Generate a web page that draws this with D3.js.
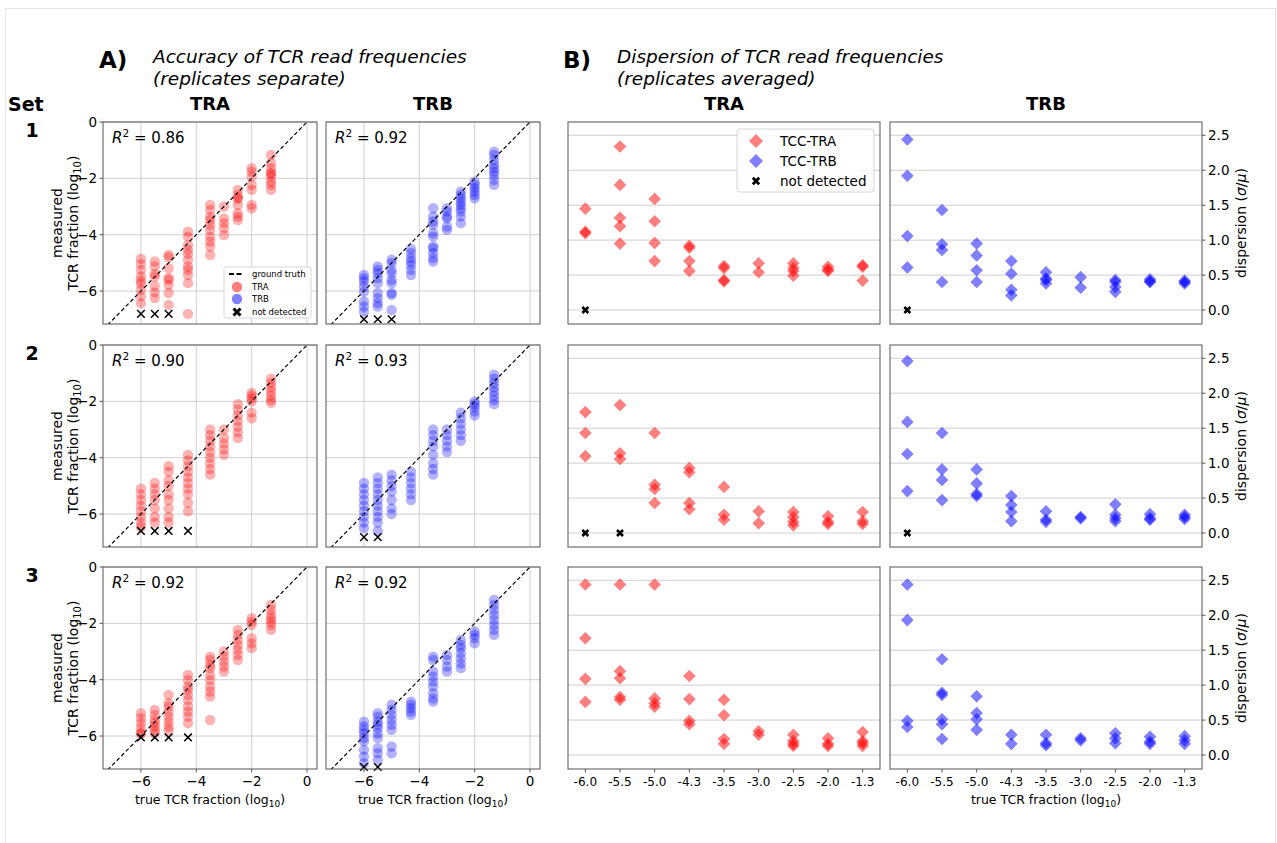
<!DOCTYPE html>
<html>
<head>
<meta charset="utf-8">
<script src="https://cdn.jsdelivr.net/npm/d3@7"></script>
<style>
  body { margin: 0; background: #fff; }
  text { font-family: "DejaVu Sans", sans-serif; fill: #000; }
</style>
</head>
<body>
<div id="chart"></div>
<script>
// true log10 fractions (shared by both parts)
const xTrue = [-6, -5.5, -5, -4.3, -3.5, -3, -2.5, -2, -1.3];
const xCats = ["-6.0", "-5.5", "-5.0", "-4.3", "-3.5", "-3.0", "-2.5", "-2.0", "-1.3"];
const setNames = ["1", "2", "3"];
const r2TRA = [0.86, 0.90, 0.92];
const r2TRB = [0.92, 0.93, 0.92];
const accXTicks = [-6, -4, -2, 0];
const accYTicks = [0, -2, -4, -6];
const dispYTicks = [0, 0.5, 1, 1.5, 2, 2.5];

// A) measured fraction per true fraction column
const accTRA1 = [
  [-4.86, -5.04, -5.25, -5.48, -5.63, -5.74, -5.96, -6.19, -6.43],
  [-4.95, -5.13, -5.39, -5.49, -5.82, -6.05, -6.25],
  [-4.72, -4.8, -5.19, -5.54, -5.6, -5.78, -6.07, -6.49],
  [-3.89, -4.07, -4.36, -4.54, -4.68, -4.89, -5.13, -5.25, -5.43, -5.72, -6.81],
  [-2.94, -3.12, -3.36, -3.48, -3.65, -3.83, -4.07, -4.24, -4.42, -4.72],
  [-3.0, -3.42, -3.59, -3.77, -4.01],
  [-2.41, -2.59, -2.71, -2.71, -2.94, -3.24, -3.36, -3.48],
  [-1.64, -1.76, -1.94, -2.23, -2.41, -2.94, -3.06],
  [-1.17, -1.46, -1.64, -1.82, -1.82, -1.94, -2.12, -2.23, -2.41]
];
const accTRB1 = [
  [-5.43, -5.54, -5.66, -5.84, -6.02, -6.37, -6.55, -6.73],
  [-5.13, -5.25, -5.37, -5.54, -5.72, -6.07, -6.25, -6.43, -6.55],
  [-4.89, -5.01, -5.25, -5.37, -5.6, -5.72, -6.07, -6.13, -6.67],
  [-4.51, -4.66, -4.83, -4.95, -5.07, -5.25, -5.43],
  [-3.06, -3.36, -3.53, -3.65, -3.95, -4.07, -4.42, -4.48, -4.66, -4.83, -4.95],
  [-3.06, -3.18, -3.36, -3.42, -3.71, -3.83],
  [-2.47, -2.59, -2.71, -2.83, -2.94, -3.06, -3.18, -3.36, -3.59],
  [-2.12, -2.23, -2.35, -2.47, -2.59, -2.71],
  [-1.05, -1.17, -1.35, -1.52, -1.64, -1.76, -1.88, -2.06, -2.23]
];
const accTRA2 = [
  [-5.1, -5.3, -5.5, -5.7, -5.9, -6.1, -6.3, -6.45],
  [-4.9, -5.1, -5.3, -5.5, -5.8, -6.1, -6.3],
  [-4.3, -4.5, -4.8, -5.0, -5.3, -5.5, -5.8, -6.1, -6.3],
  [-3.9, -4.1, -4.3, -4.5, -4.7, -4.9, -5.1, -5.3, -5.6, -5.9],
  [-3.0, -3.2, -3.4, -3.6, -3.8, -4.0, -4.2, -4.4, -4.6],
  [-3.0, -3.3, -3.5, -3.7, -3.9],
  [-2.1, -2.3, -2.5, -2.7, -2.9, -3.1, -3.3],
  [-1.7, -1.8, -1.9, -2.0, -2.4, -2.6],
  [-1.2, -1.35, -1.5, -1.65, -1.8, -1.95, -2.05]
];
const accTRB2 = [
  [-4.9, -5.1, -5.3, -5.5, -5.7, -5.9, -6.1, -6.3, -6.5],
  [-4.7, -4.9, -5.1, -5.3, -5.5, -5.7, -5.9, -6.1, -6.3, -6.6],
  [-4.6, -4.8, -5.0, -5.2, -5.5, -5.8, -6.0],
  [-4.5, -4.7, -4.9, -5.1, -5.3, -5.5],
  [-3.0, -3.2, -3.4, -3.6, -3.9, -4.2, -4.4, -4.6],
  [-3.0, -3.2, -3.4, -3.6, -3.8],
  [-2.4, -2.6, -2.8, -3.0, -3.2, -3.4],
  [-2.0, -2.1, -2.2, -2.35, -2.5],
  [-1.05, -1.2, -1.35, -1.5, -1.65, -1.8, -1.95, -2.1]
];
const accTRA3 = [
  [-5.19, -5.37, -5.54, -5.72, -5.9, -5.9],
  [-5.07, -5.25, -5.43, -5.54, -5.66, -5.78, -5.9],
  [-4.54, -4.83, -4.95, -5.13, -5.31, -5.49, -5.66, -5.8],
  [-3.83, -4.01, -4.24, -4.36, -4.54, -4.72, -4.95, -5.13, -5.31, -5.54],
  [-3.18, -3.3, -3.48, -3.59, -3.83, -4.01, -4.24, -4.42, -4.6, -5.43],
  [-3.0, -3.18, -3.36, -3.53, -3.71],
  [-2.23, -2.41, -2.59, -2.77, -2.94, -3.12, -3.3],
  [-1.82, -1.94, -2.06, -2.53, -2.71, -2.88],
  [-1.35, -1.52, -1.7, -1.82, -1.94, -2.06, -2.23]
];
const accTRB3 = [
  [-5.49, -5.66, -5.78, -5.9, -6.07, -6.19, -6.49, -6.73, -6.96],
  [-5.19, -5.31, -5.49, -5.6, -5.72, -5.9, -6.07, -6.43, -6.61, -6.84],
  [-4.89, -5.07, -5.25, -5.43, -5.6, -5.78, -6.37, -6.61],
  [-4.78, -4.89, -5.01, -5.13, -5.25],
  [-3.18, -3.3, -3.71, -3.89, -4.07, -4.24, -4.48, -4.66, -4.78],
  [-3.12, -3.3, -3.53, -3.71],
  [-2.59, -2.77, -2.88, -3.06, -3.24, -3.42, -3.59],
  [-2.29, -2.41, -2.53, -2.71],
  [-1.17, -1.35, -1.52, -1.7, -1.88, -2.06, -2.23, -2.41]
];
// columns that were not detected, and where their marker sits
const ndAccTRA = [[0, 1, 2], [0, 1, 2, 3], [0, 1, 2, 3]];
const ndAccTRB = [[0, 1, 2], [0, 1], [0, 1]];
const ndAccYTRA = [-6.81, -6.6, -6.05];
const ndAccYTRB = [-7.0, -6.82, -7.1];

// B) dispersion sigma/mu per true fraction column
const dispTRA1 = [[1.45, 1.12, 1.1], [2.34, 1.79, 1.32, 1.2, 0.95], [1.59, 1.27, 0.96, 0.7], [0.92, 0.89, 0.7, 0.56], [0.63, 0.6, 0.43, 0.41], [0.67, 0.54], [0.67, 0.6, 0.56, 0.49], [0.62, 0.58, 0.56], [0.64, 0.62, 0.42]];
const dispTRB1 = [[2.44, 1.92, 1.06, 0.61], [1.43, 0.94, 0.86, 0.4], [0.95, 0.78, 0.57, 0.4], [0.7, 0.52, 0.29, 0.21], [0.54, 0.45, 0.43, 0.38], [0.47, 0.32], [0.4, 0.43, 0.33, 0.26], [0.4, 0.44, 0.41], [0.42, 0.38, 0.4]];
const dispTRA2 = [[1.73, 1.43, 1.1], [1.83, 1.14, 1.06], [1.43, 0.69, 0.63, 0.43], [0.93, 0.87, 0.43, 0.34], [0.66, 0.26, 0.19], [0.31, 0.14], [0.3, 0.23, 0.16, 0.11], [0.24, 0.16, 0.13], [0.3, 0.17, 0.13]];
const dispTRB2 = [[2.46, 1.59, 1.13, 0.6], [1.43, 0.91, 0.76, 0.47], [0.91, 0.71, 0.56, 0.53], [0.53, 0.4, 0.3, 0.17], [0.31, 0.19, 0.16], [0.23, 0.21], [0.41, 0.26, 0.21, 0.17], [0.27, 0.21, 0.19], [0.26, 0.23, 0.2]];
const dispTRA3 = [[2.44, 1.67, 1.09, 0.76], [2.44, 1.2, 1.1, 0.83, 0.79], [2.44, 0.81, 0.74, 0.69], [1.13, 0.8, 0.49, 0.44], [0.79, 0.57, 0.23, 0.16], [0.34, 0.29], [0.29, 0.2, 0.16, 0.13], [0.24, 0.16, 0.13], [0.33, 0.2, 0.17, 0.13]];
const dispTRB3 = [[2.44, 1.93, 0.49, 0.4], [1.37, 0.89, 0.86, 0.51, 0.44, 0.23], [0.84, 0.6, 0.51, 0.36], [0.29, 0.16], [0.29, 0.17, 0.14], [0.24, 0.21], [0.31, 0.24, 0.17], [0.26, 0.19, 0.16], [0.27, 0.21, 0.16]];
const ndDispTRA = [[0], [0, 1], []];
const ndDispTRB = [[0], [0], []];

const accTRA = [accTRA1, accTRA2, accTRA3];
const accTRB = [accTRB1, accTRB2, accTRB3];
const dispTRA = [dispTRA1, dispTRA2, dispTRA3];
const dispTRB = [dispTRB1, dispTRB2, dispTRB3];

const RED = "#ff0000";
const BLUE = "#0000ff";
const GRID = "#cfcfcf";
const SPINE = "#555";

// layout
const rowTop = [122, 345, 567];
const rowH = 202;
const accLeft = [103, 326];
const accW = 214;
const dispLeft = [568, 890];
const dispW = 312;

const svg = d3.select("#chart").append("svg")
  .attr("width", 1277).attr("height", 843);

svg.append("rect").attr("x", 5.5).attr("y", 8.5).attr("width", 1270).attr("height", 840)
  .attr("fill", "none").attr("stroke", "#e4e4ec");

let clipId = 0;
function clipFor(g, x, y, w, h) {
  const id = "clip" + (clipId++);
  g.append("clipPath").attr("id", id).append("rect")
    .attr("x", x).attr("y", y).attr("width", w).attr("height", h);
  return `url(#${id})`;
}

const crossPath = (s) => `M${-s},${-s}L${s},${s}M${-s},${s}L${s},${-s}`;
const diamond = (s) => `M0,${-s}L${s},0L0,${s}L${-s},0Z`;

function accPanel(row, col) {
  const x0 = accLeft[col], y0 = rowTop[row];
  const data = col === 0 ? accTRA[row] : accTRB[row];
  const color = col === 0 ? RED : BLUE;
  const xs = d3.scaleLinear().domain([-7.37, 0.36]).range([x0, x0 + accW]);
  const ys = d3.scaleLinear().domain([-7.17, 0]).range([y0 + rowH, y0]);
  const g = svg.append("g");
  const clip = clipFor(g, x0, y0, accW, rowH);

  g.append("g").selectAll("line.v").data(accXTicks).join("line")
    .attr("x1", (d) => xs(d)).attr("x2", (d) => xs(d))
    .attr("y1", y0).attr("y2", y0 + rowH)
    .attr("stroke", GRID).attr("stroke-width", 1);
  g.append("g").selectAll("line.h").data(accYTicks).join("line")
    .attr("y1", (d) => ys(d)).attr("y2", (d) => ys(d))
    .attr("x1", x0).attr("x2", x0 + accW)
    .attr("stroke", GRID).attr("stroke-width", 1);

  const pts = data.flatMap((vals, i) => vals.map((v) => ({ x: xTrue[i], y: v })));
  g.append("g").attr("clip-path", clip).selectAll("circle").data(pts).join("circle")
    .attr("cx", (d) => xs(d.x)).attr("cy", (d) => ys(d.y)).attr("r", 5.2)
    .attr("fill", color).attr("fill-opacity", 0.3);

  const nd = col === 0 ? ndAccTRA[row] : ndAccTRB[row];
  const ndY = col === 0 ? ndAccYTRA[row] : ndAccYTRB[row];
  g.append("g").selectAll("path").data(nd).join("path")
    .attr("transform", (i) => `translate(${xs(xTrue[i])},${ys(ndY)})`)
    .attr("d", crossPath(3.8)).attr("stroke", "#000").attr("stroke-width", 1.5);

  const line = d3.line().x((d) => xs(d)).y((d) => ys(d));
  g.append("path").attr("clip-path", clip).attr("d", line([-7.37, 0.36]))
    .attr("stroke", "#000").attr("stroke-width", 1.2).attr("stroke-dasharray", "4,2.5")
    .attr("fill", "none");

  g.append("rect").attr("x", x0).attr("y", y0).attr("width", accW).attr("height", rowH)
    .attr("fill", "none").attr("stroke", SPINE).attr("stroke-width", 1);

  const r2 = col === 0 ? r2TRA[row] : r2TRB[row];
  const t = g.append("text").attr("x", x0 + 9).attr("y", y0 + 21).attr("font-size", 15);
  t.append("tspan").attr("font-style", "italic").text("R");
  t.append("tspan").attr("font-size", 10.5).attr("dy", -6).text("2");
  t.append("tspan").attr("dy", 6).text(" = " + r2.toFixed(2));

  if (col === 0) {
    g.append("g").selectAll("line").data(accYTicks).join("line")
      .attr("x1", x0 - 3.5).attr("x2", x0).attr("y1", (d) => ys(d)).attr("y2", (d) => ys(d))
      .attr("stroke", SPINE);
    g.append("g").selectAll("text").data(accYTicks).join("text")
      .attr("x", x0 - 6).attr("y", (d) => ys(d)).attr("dy", "0.36em")
      .attr("text-anchor", "end").attr("font-size", 13.5)
      .text((d) => (d === 0 ? "0" : "\u2212" + Math.abs(d)));
  }
  if (row === 2) {
    g.append("g").selectAll("line").data(accXTicks).join("line")
      .attr("x1", (d) => xs(d)).attr("x2", (d) => xs(d))
      .attr("y1", y0 + rowH).attr("y2", y0 + rowH + 3.5).attr("stroke", SPINE);
    g.append("g").selectAll("text").data(accXTicks).join("text")
      .attr("x", (d) => xs(d)).attr("y", y0 + rowH + 17)
      .attr("text-anchor", "middle").attr("font-size", 13.5)
      .text((d) => (d === 0 ? "0" : "\u2212" + Math.abs(d)));
    xLabel(g, x0 + accW / 2, y0 + rowH + 35);
  }
  return g;
}

function xLabel(g, cx, y) {
  const t = g.append("text").attr("x", cx).attr("y", y)
    .attr("text-anchor", "middle").attr("font-size", 12.5);
  t.append("tspan").text("true TCR fraction (log");
  t.append("tspan").attr("font-size", 9).attr("dy", 3).text("10");
  t.append("tspan").attr("dy", -3).text(")");
}

function dispPanel(row, col) {
  const x0 = dispLeft[col], y0 = rowTop[row];
  const data = col === 0 ? dispTRA[row] : dispTRB[row];
  const color = col === 0 ? RED : BLUE;
  const xs = d3.scaleLinear().domain([-0.5, 8.5]).range([x0, x0 + dispW]);
  const ys = d3.scaleLinear().domain([-0.2, 2.69]).range([y0 + rowH, y0]);
  const g = svg.append("g");
  const clip = clipFor(g, x0, y0, dispW, rowH);

  g.append("g").selectAll("line").data(dispYTicks).join("line")
    .attr("y1", (d) => ys(d)).attr("y2", (d) => ys(d))
    .attr("x1", x0).attr("x2", x0 + dispW)
    .attr("stroke", GRID).attr("stroke-width", 1);

  const pts = data.flatMap((vals, i) => vals.map((v) => ({ i, v })));
  g.append("g").attr("clip-path", clip).selectAll("path").data(pts).join("path")
    .attr("transform", (d) => `translate(${xs(d.i)},${ys(d.v)})`)
    .attr("d", diamond(6.3)).attr("fill", color).attr("fill-opacity", 0.5);

  const nd = col === 0 ? ndDispTRA[row] : ndDispTRB[row];
  g.append("g").selectAll("path").data(nd).join("path")
    .attr("transform", (i) => `translate(${xs(i)},${ys(0)})`)
    .attr("d", crossPath(3)).attr("stroke", "#000").attr("stroke-width", 2.6);

  g.append("rect").attr("x", x0).attr("y", y0).attr("width", dispW).attr("height", rowH)
    .attr("fill", "none").attr("stroke", SPINE).attr("stroke-width", 1);

  if (col === 1) {
    const xr = x0 + dispW;
    g.append("g").selectAll("line").data(dispYTicks).join("line")
      .attr("x1", xr).attr("x2", xr + 3.5).attr("y1", (d) => ys(d)).attr("y2", (d) => ys(d))
      .attr("stroke", SPINE);
    g.append("g").selectAll("text").data(dispYTicks).join("text")
      .attr("x", xr + 6).attr("y", (d) => ys(d)).attr("dy", "0.36em")
      .attr("font-size", 13.5).text((d) => d3.format(".1f")(d));
    const yl = g.append("text")
      .attr("transform", `translate(${xr + 44},${y0 + rowH / 2}) rotate(-90)`)
      .attr("text-anchor", "middle").attr("font-size", 14);
    yl.append("tspan").text("dispersion (");
    yl.append("tspan").attr("font-style", "italic").text("\u03c3");
    yl.append("tspan").text("/");
    yl.append("tspan").attr("font-style", "italic").text("\u03bc");
    yl.append("tspan").text(")");
  }
  if (row === 2) {
    g.append("g").selectAll("line").data(xCats).join("line")
      .attr("x1", (d, i) => xs(i)).attr("x2", (d, i) => xs(i))
      .attr("y1", y0 + rowH).attr("y2", y0 + rowH + 3.5).attr("stroke", SPINE);
    g.append("g").selectAll("text").data(xCats).join("text")
      .attr("x", (d, i) => xs(i)).attr("y", y0 + rowH + 17)
      .attr("text-anchor", "middle").attr("font-size", 12)
      .text((d) => d);
    if (col === 1) xLabel(g, x0 + dispW / 2, y0 + rowH + 35);
  }
  return g;
}

for (let r = 0; r < 3; r++) {
  accPanel(r, 0);
  accPanel(r, 1);
  dispPanel(r, 0);
  dispPanel(r, 1);

  const cy = rowTop[r] + rowH / 2;
  const yl = svg.append("text")
    .attr("transform", `translate(70,${cy}) rotate(-90)`)
    .attr("text-anchor", "middle").attr("font-size", 14);
  yl.append("tspan").attr("x", 0).attr("dy", "-0.6em").text("measured");
  yl.append("tspan").attr("x", 0).attr("dy", "1.2em").text("TCR fraction (log");
  yl.append("tspan").attr("font-size", 10).attr("dy", 3).text("10");
  yl.append("tspan").attr("dy", -3).text(")");

  svg.append("text").attr("x", 32).attr("y", rowTop[r] + 15)
    .attr("text-anchor", "middle").attr("font-size", 19).attr("font-weight", "bold")
    .text(setNames[r]);
}

// legend, part A
{
  const lx = 224, ly = 267;
  const lg = svg.append("g");
  lg.append("rect").attr("x", lx).attr("y", ly).attr("width", 87).attr("height", 51)
    .attr("rx", 2).attr("fill", "#fff").attr("fill-opacity", 0.85)
    .attr("stroke", "#d6d6d6");
  const rows = [ly + 7, ly + 20, ly + 32, ly + 45];
  lg.append("line").attr("x1", lx + 5).attr("x2", lx + 20).attr("y1", rows[0]).attr("y2", rows[0])
    .attr("stroke", "#000").attr("stroke-width", 2).attr("stroke-dasharray", "5,2.5");
  lg.append("circle").attr("cx", lx + 13).attr("cy", rows[1]).attr("r", 5.2)
    .attr("fill", RED).attr("fill-opacity", 0.5);
  lg.append("circle").attr("cx", lx + 13).attr("cy", rows[2]).attr("r", 5.2)
    .attr("fill", BLUE).attr("fill-opacity", 0.5);
  lg.append("path").attr("transform", `translate(${lx + 13},${rows[3]})`)
    .attr("d", crossPath(3.5)).attr("stroke", "#000").attr("stroke-width", 3);
  ["ground truth", "TRA", "TRB", "not detected"].forEach((s, i) => {
    lg.append("text").attr("x", lx + 28).attr("y", rows[i]).attr("dy", "0.35em")
      .attr("font-size", 8.5).text(s);
  });
}

// legend, part B
{
  const lx = 737, ly = 129;
  const lg = svg.append("g");
  lg.append("rect").attr("x", lx).attr("y", ly).attr("width", 137).attr("height", 63)
    .attr("rx", 3).attr("fill", "#fff").attr("fill-opacity", 0.85)
    .attr("stroke", "#d6d6d6");
  const rows = [ly + 12, ly + 32, ly + 52];
  lg.append("path").attr("transform", `translate(${lx + 19},${rows[0]})`)
    .attr("d", diamond(7)).attr("fill", RED).attr("fill-opacity", 0.5);
  lg.append("path").attr("transform", `translate(${lx + 19},${rows[1]})`)
    .attr("d", diamond(7)).attr("fill", BLUE).attr("fill-opacity", 0.5);
  lg.append("path").attr("transform", `translate(${lx + 19},${rows[2]})`)
    .attr("d", crossPath(3.2)).attr("stroke", "#000").attr("stroke-width", 2.8);
  ["TCC-TRA", "TCC-TRB", "not detected"].forEach((s, i) => {
    lg.append("text").attr("x", lx + 43).attr("y", rows[i]).attr("dy", "0.36em")
      .attr("font-size", 13.5).text(s);
  });
}

// titles
svg.append("text").attr("x", 8).attr("y", 111).attr("font-size", 19)
  .attr("font-weight", "bold").text("Set");
[[accLeft[0] + accW / 2, "TRA"], [accLeft[1] + accW / 2, "TRB"],
 [dispLeft[0] + dispW / 2, "TRA"], [dispLeft[1] + dispW / 2, "TRB"]].forEach(([x, s]) => {
  svg.append("text").attr("x", x).attr("y", 110).attr("text-anchor", "middle")
    .attr("font-size", 18).attr("font-weight", "bold").text(s);
});
function panelTitle(x, letter, l1, l2) {
  svg.append("text").attr("x", x).attr("y", 68).attr("font-size", 23)
    .attr("font-weight", "bold").text(letter);
  svg.append("text").attr("x", x + 54).attr("y", 63).attr("font-size", 18.5)
    .attr("font-style", "italic").text(l1);
  svg.append("text").attr("x", x + 54).attr("y", 85).attr("font-size", 18.5)
    .attr("font-style", "italic").text(l2);
}
panelTitle(99, "A)", "Accuracy of TCR read frequencies", "(replicates separate)");
panelTitle(563, "B)", "Dispersion of TCR read frequencies", "(replicates averaged)");
</script>
</body>
</html>
